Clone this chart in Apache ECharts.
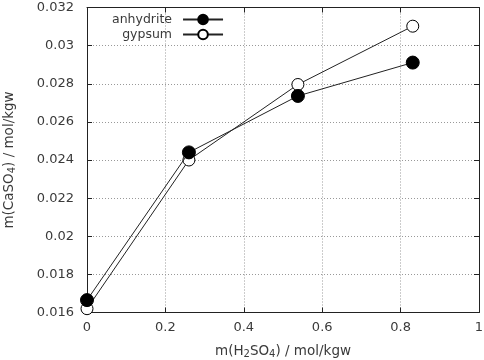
<!DOCTYPE html>
<html>
<head>
<meta charset="utf-8">
<script src="https://cdn.jsdelivr.net/npm/echarts@6/dist/echarts.min.js"></script>
<style>
  html, body { margin: 0; padding: 0; background: #fff; }
  #chart { width: 484px; height: 360px; }
</style>
</head>
<body>
<div id="chart"></div>
<script>
// H2SO4 molality (x) and CaSO4 solubility (y)
const xH2SO4 = [0, 0.26, 0.538, 0.831];
const anhydrite = [0.01665, 0.0244, 0.02736, 0.02911];
const gypsum = [0.0162, 0.0240, 0.02796, 0.03102];
const xTicks = [0, 0.2, 0.4, 0.6, 0.8, 1];
const yTicks = [0.016, 0.018, 0.02, 0.022, 0.024, 0.026, 0.028, 0.03, 0.032];

const font = 'DejaVu Sans';
const textColor = '#3a3a3a';
const lineColor = '#222';

const pairs = (ys) => xH2SO4.map((x, i) => [x, ys[i]]);
const fmt = (v) => String(parseFloat(v.toFixed(3)));

const chart = echarts.init(document.getElementById('chart'));

const baseX = {
  type: 'value',
  min: xTicks[0],
  max: xTicks[xTicks.length - 1],
  interval: 0.2,
  axisLine: { show: true, onZero: false, lineStyle: { color: lineColor, width: 1 } },
  axisTick: { show: true, inside: true, length: 5, lineStyle: { color: lineColor } },
  splitLine: { show: false },
};
const baseY = {
  type: 'value',
  min: yTicks[0],
  max: yTicks[yTicks.length - 1],
  interval: 0.002,
  axisLine: { show: true, onZero: false, lineStyle: { color: lineColor, width: 1 } },
  axisTick: { show: true, inside: true, length: 5, lineStyle: { color: lineColor } },
  splitLine: { show: false },
};

const sub = { fontSize: 10, fontFamily: font, color: textColor, padding: [6, 0, 0, 0] };
const norm = { fontSize: 13.5, fontFamily: font, color: textColor };
const grid = { color: '#999', type: [1, 2], width: 1 };

chart.setOption({
  animation: false,
  backgroundColor: '#fff',
  textStyle: { fontFamily: font },
  grid: {
    left: 87, right: 5, top: 7.5, bottom: 47.5,
    containLabel: false,
    outerBoundsMode: 'none',
  },
  legend: {
    orient: 'vertical',
    align: 'right',
    left: 107,
    top: 8,
    itemWidth: 40,
    itemHeight: 12,
    itemGap: 2,
    textStyle: { fontSize: 12.5, fontFamily: font, color: textColor, padding: [0, 6, 0, 0] },
    data: ['anhydrite', 'gypsum'],
  },
  xAxis: [
    {
      ...baseX,
      position: 'bottom',
      axisLabel: { color: textColor, fontSize: 13, fontFamily: font, margin: 9, formatter: fmt },
      splitLine: { show: true, lineStyle: grid },
      name: '{a|m(H}{s|2}{a|SO}{s|4}{a|) / mol/kgw}',
      nameLocation: 'middle',
      nameGap: 31,
      nameMoveOverlap: false,
      nameTextStyle: { rich: { a: norm, s: sub } },
    },
    { ...baseX, position: 'top', axisLabel: { show: false } },
  ],
  yAxis: [
    {
      ...baseY,
      position: 'left',
      axisLabel: { color: textColor, fontSize: 13, fontFamily: font, margin: 13, formatter: fmt },
      splitLine: { show: true, lineStyle: grid },
      name: '{a|m(CaSO}{s|4}{a|) / mol/kgw}',
      nameLocation: 'middle',
      nameGap: 70,
      nameRotate: 90,
      nameMoveOverlap: false,
      nameTextStyle: { rich: { a: norm, s: sub } },
    },
    { ...baseY, position: 'right', axisLabel: { show: false } },
  ],
  series: [
    {
      name: 'anhydrite',
      type: 'line',
      data: pairs(anhydrite),
      symbol: 'circle',
      symbolSize: 13,
      lineStyle: { color: lineColor, width: 1 },
      itemStyle: { color: '#000', borderColor: '#000', borderWidth: 1 },
      z: 3,
    },
    {
      name: 'gypsum',
      type: 'line',
      data: pairs(gypsum),
      symbol: 'circle',
      symbolSize: 12,
      lineStyle: { color: lineColor, width: 1 },
      itemStyle: { color: '#fff', borderColor: '#000', borderWidth: 1 },
      z: 2,
    },
  ],
});
</script>
</body>
</html>
